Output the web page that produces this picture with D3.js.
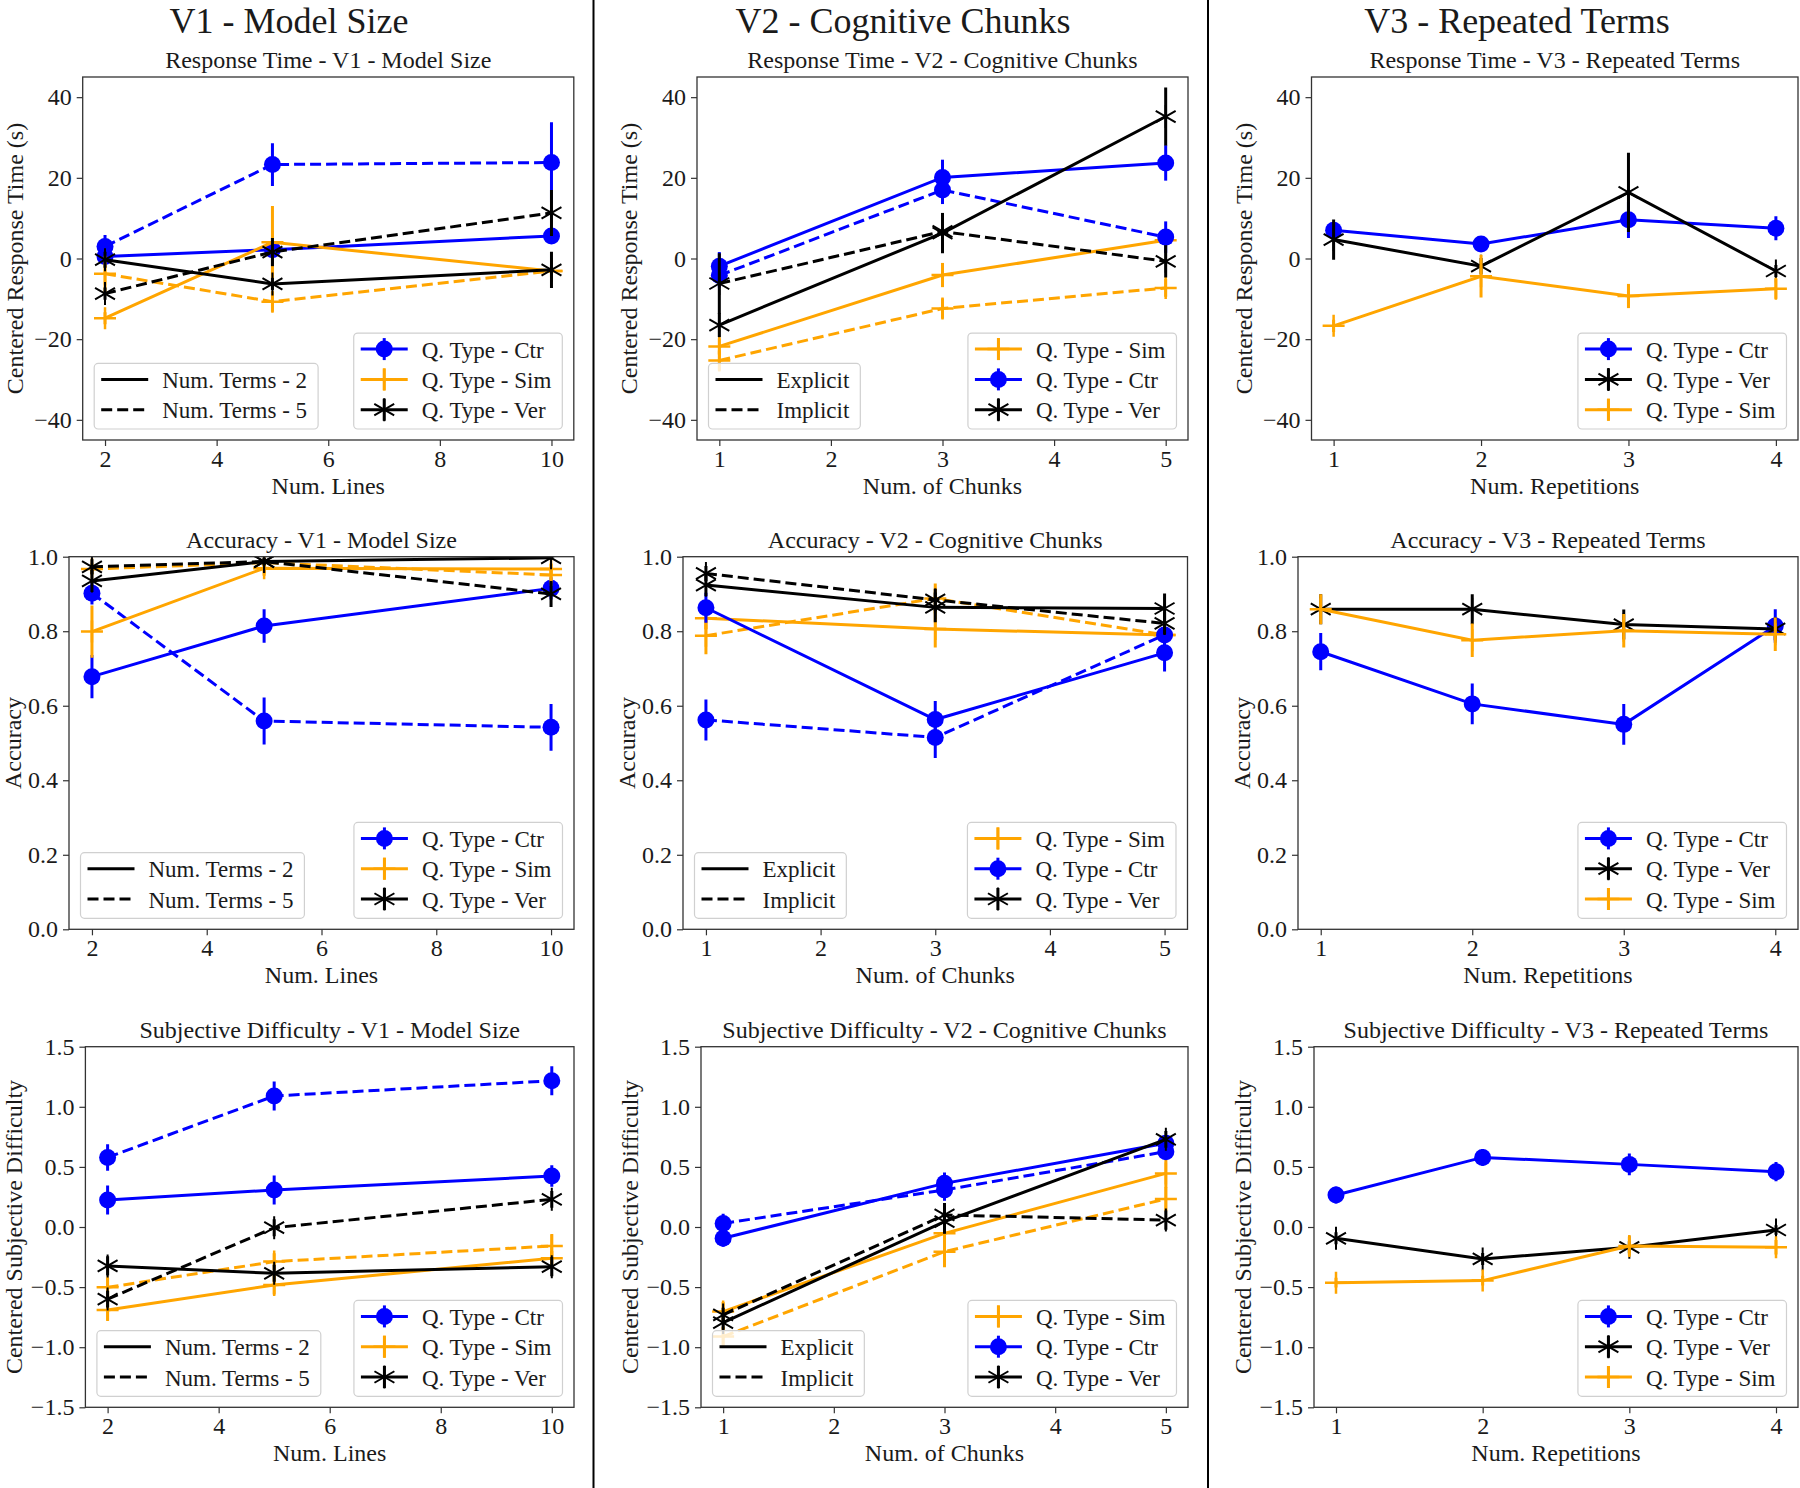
<!DOCTYPE html>
<html><head><meta charset="utf-8">
<script src="https://cdn.jsdelivr.net/npm/d3@7"></script>
<style>
body{margin:0;background:#fff}
svg{display:block}
text{font-family:"Liberation Serif","Times New Roman",serif;fill:#1a1a1a}
</style>
</head><body>
<svg id="c" width="1800" height="1488"></svg>
<script>
// ---------- categories / ticks ----------
const linesV1 = [2, 5, 10];
const chunksV2 = [1, 3, 5];
const repsV3 = [1, 2, 3, 4];
const ticksV1 = [2, 4, 6, 8, 10];
const ticksV2 = [1, 2, 3, 4, 5];
const ticksV3 = [1, 2, 3, 4];
const ticksRT = [-40, -20, 0, 20, 40];
const ticksAcc = [0, 0.2, 0.4, 0.6, 0.8, 1.0];
const ticksSD = [-1.5, -1.0, -0.5, 0, 0.5, 1.0, 1.5];

const headers = ["V1 - Model Size", "V2 - Cognitive Chunks", "V3 - Repeated Terms"];
const metricTitles = ["Response Time", "Accuracy", "Subjective Difficulty"];
const yLabels = ["Centered Response Time (s)", "Accuracy", "Centered Subjective Difficulty"];
const xLabels = ["Num. Lines", "Num. of Chunks", "Num. Repetitions"];
const styleLabelsV1 = ["Num. Terms - 2", "Num. Terms - 5"];
const styleLabelsV2 = ["Explicit", "Implicit"];
const typeLabels = {ctr: "Q. Type - Ctr", sim: "Q. Type - Sim", ver: "Q. Type - Ver"};
const typeOrderV1 = ["ctr", "sim", "ver"];
const typeOrderV2 = ["sim", "ctr", "ver"];
const typeOrderV3 = ["ctr", "ver", "sim"];

// ---------- Response time ----------
const rtV1Ctr2 = [0.5, 2.2, 5.6],    rtV1Ctr2Err = [1.5, 2.0, 2.0];
const rtV1Ctr5 = [3.0, 23.3, 23.8],  rtV1Ctr5Err = [2.8, 5.3, 10.0];
const rtV1Sim2 = [-14.8, 4.0, -3.1], rtV1Sim2Err = [1.5, 9.0, 1.5];
const rtV1Sim5 = [-3.8, -10.7, -3.1],rtV1Sim5Err = [4.5, 2.5, 1.5];
const rtV1Ver2 = [-0.3, -6.3, -2.8], rtV1Ver2Err = [2.0, 1.5, 4.5];
const rtV1Ver5 = [-8.7, 1.6, 11.3],  rtV1Ver5Err = [1.5, 3.5, 5.7];

const rtV2CtrE = [-1.9, 20.1, 23.7], rtV2CtrEErr = [3.5, 4.4, 4.4];
const rtV2CtrI = [-4.2, 17.0, 5.3],  rtV2CtrIErr = [3.0, 3.5, 3.9];
const rtV2SimE = [-21.8, -4.1, 4.5], rtV2SimEErr = [2.0, 3.0, 1.5];
const rtV2SimI = [-25.3, -12.4, -7.3], rtV2SimIErr = [2.5, 2.5, 2.2];
const rtV2VerE = [-16.5, 6.3, 35.2], rtV2VerEErr = [3.0, 5.0, 7.2];
const rtV2VerI = [-6.2, 6.7, -0.7],  rtV2VerIErr = [7.5, 3.0, 4.0];

const rtV3Ctr = [7.0, 3.6, 9.6, 7.5],     rtV3CtrErr = [2.0, 2.0, 4.5, 3.0];
const rtV3Ver = [4.7, -1.9, 16.4, -3.1],  rtV3VerErr = [5.0, 2.0, 9.8, 1.5];
const rtV3Sim = [-16.7, -4.4, -9.3, -7.5],rtV3SimErr = [1.5, 5.3, 3.0, 2.5];

// ---------- Accuracy ----------
const accV1Ctr2 = [0.678, 0.814, 0.915], accV1Ctr2Err = [0.058, 0.045, 0.03];
const accV1Ctr5 = [0.902, 0.559, 0.542], accV1Ctr5Err = [0.03, 0.063, 0.063];
const accV1Sim2 = [0.799, 0.969, 0.967], accV1Sim2Err = [0.07, 0.02, 0.015];
const accV1Sim5 = [0.967, 0.984, 0.951], accV1Sim5Err = [0.015, 0.01, 0.02];
const accV1Ver2 = [0.935, 0.987, 0.997], accV1Ver2Err = [0.03, 0.01, 0.005];
const accV1Ver5 = [0.973, 0.987, 0.900], accV1Ver5Err = [0.02, 0.01, 0.035];

const accV2CtrE = [0.863, 0.563, 0.742], accV2CtrEErr = [0.04, 0.05, 0.05];
const accV2CtrI = [0.562, 0.515, 0.790], accV2CtrIErr = [0.055, 0.055, 0.03];
const accV2SimE = [0.835, 0.806, 0.790], accV2SimEErr = [0.03, 0.05, 0.02];
const accV2SimI = [0.788, 0.888, 0.790], accV2SimIErr = [0.05, 0.04, 0.02];
const accV2VerE = [0.924, 0.864, 0.861], accV2VerEErr = [0.03, 0.04, 0.04];
const accV2VerI = [0.955, 0.884, 0.821], accV2VerIErr = [0.02, 0.03, 0.03];

const accV3Ctr = [0.745, 0.605, 0.550, 0.814], accV3CtrErr = [0.05, 0.055, 0.055, 0.045];
const accV3Ver = [0.859, 0.859, 0.818, 0.806], accV3VerErr = [0.04, 0.04, 0.04, 0.03];
const accV3Sim = [0.859, 0.776, 0.801, 0.792], accV3SimErr = [0.04, 0.045, 0.045, 0.045];

// ---------- Subjective difficulty ----------
const sdV1Ctr2 = [0.225, 0.308, 0.424],  sdV1Ctr2Err = [0.12, 0.12, 0.09];
const sdV1Ctr5 = [0.579, 1.090, 1.217],  sdV1Ctr5Err = [0.11, 0.12, 0.12];
const sdV1Sim2 = [-0.690, -0.482, -0.260], sdV1Sim2Err = [0.09, 0.08, 0.06];
const sdV1Sim5 = [-0.502, -0.288, -0.158], sdV1Sim5Err = [0.08, 0.07, 0.10];
const sdV1Ver2 = [-0.324, -0.385, -0.330], sdV1Ver2Err = [0.08, 0.07, 0.08];
const sdV1Ver5 = [-0.600, -0.006, 0.230],  sdV1Ver5Err = [0.07, 0.07, 0.07];

const sdV2CtrE = [-0.094, 0.363, 0.696], sdV2CtrEErr = [0.07, 0.09, 0.06];
const sdV2CtrI = [0.030, 0.308, 0.627],  sdV2CtrIErr = [0.08, 0.09, 0.06];
const sdV2SimE = [-0.704, -0.053, 0.446], sdV2SimEErr = [0.08, 0.10, 0.12];
const sdV2SimI = [-0.912, -0.205, 0.233], sdV2SimIErr = [0.08, 0.13, 0.10];
const sdV2VerE = [-0.795, 0.044, 0.729], sdV2VerEErr = [0.06, 0.10, 0.07];
const sdV2VerI = [-0.732, 0.100, 0.058], sdV2VerIErr = [0.06, 0.10, 0.08];

const sdV3Ctr = [0.266, 0.579, 0.521, 0.460],   sdV3CtrErr = [0.07, 0.07, 0.09, 0.08];
const sdV3Ver = [-0.094, -0.266, -0.169, -0.025], sdV3VerErr = [0.05, 0.05, 0.05, 0.04];
const sdV3Sim = [-0.463, -0.446, -0.158, -0.169], sdV3SimErr = [0.04, 0.04, 0.08, 0.06];

// ---------- drawing ----------
const svg = d3.select("#c");
const colors = {ctr: "#0000ff", sim: "#ffa500", ver: "#000000"};
const LW = 3;
let clipId = 0;

function drawMarker(g, type, cx, cy) {
  if (type === "ctr") {
    g.append("circle").attr("cx", cx).attr("cy", cy).attr("r", 8.5).attr("fill", colors.ctr);
  } else if (type === "sim") {
    const s = 11;
    g.append("path").attr("d", `M${cx - s},${cy}H${cx + s}M${cx},${cy - s}V${cy + s}`)
      .attr("stroke", colors.sim).attr("stroke-width", 2.5).attr("fill", "none");
  } else {
    const s = 11.5;
    let d = "";
    [90, 30, 150].forEach(a => {
      const r = a * Math.PI / 180, dx = s * Math.cos(r), dy = s * Math.sin(r);
      d += `M${cx - dx},${cy - dy}L${cx + dx},${cy + dy}`;
    });
    g.append("path").attr("d", d).attr("stroke", colors.ver).attr("stroke-width", 2).attr("fill", "none");
  }
}

function panel(cfg) {
  const g = svg.append("g");
  const x = d3.scaleLinear().domain(cfg.xDomain).range([cfg.left, cfg.right]);
  const y = d3.scaleLinear().domain(cfg.yDomain).range([cfg.bottom, cfg.top]);

  const id = "clip" + (clipId++);
  svg.append("clipPath").attr("id", id).append("rect")
    .attr("x", cfg.left).attr("y", cfg.top)
    .attr("width", cfg.right - cfg.left).attr("height", cfg.bottom - cfg.top);

  // axes
  const xa = g.append("g").attr("transform", `translate(0,${cfg.bottom})`)
    .call(d3.axisBottom(x).tickValues(cfg.xTicks).tickSize(6).tickPadding(4).tickFormat(d3.format("d")));
  const ya = g.append("g").attr("transform", `translate(${cfg.left},0)`)
    .call(d3.axisLeft(y).tickValues(cfg.yTicks).tickSize(6).tickPadding(5).tickFormat(d3.format(cfg.yFmt)));
  [xa, ya].forEach(a => {
    a.select(".domain").remove();
    a.selectAll(".tick line").attr("stroke", "#333").attr("stroke-width", 1.2);
    a.selectAll(".tick text").attr("font-size", 24).attr("fill", "#1a1a1a")
      .attr("font-family", "Liberation Serif, serif");
  });

  // data
  const plot = g.append("g").attr("clip-path", `url(#${id})`);
  cfg.series.forEach(s => {
    const col = colors[s.type];
    const pts = cfg.xs.map((xv, i) => [xv, s.vals[i], s.errs[i]]);
    plot.append("path").datum(pts)
      .attr("d", d3.line().x(d => x(d[0])).y(d => y(d[1])))
      .attr("fill", "none").attr("stroke", col).attr("stroke-width", LW)
      .attr("stroke-dasharray", s.dash ? "11,5" : null);
    pts.forEach(p => {
      plot.append("line").attr("x1", x(p[0])).attr("x2", x(p[0]))
        .attr("y1", y(p[1] - p[2])).attr("y2", y(p[1] + p[2]))
        .attr("stroke", col).attr("stroke-width", LW);
      drawMarker(plot, s.type, x(p[0]), y(p[1]));
    });
  });

  // frame
  g.append("rect").attr("x", cfg.left).attr("y", cfg.top)
    .attr("width", cfg.right - cfg.left).attr("height", cfg.bottom - cfg.top)
    .attr("fill", "none").attr("stroke", "#333").attr("stroke-width", 1.3);

  // texts
  g.append("text").attr("x", (cfg.left + cfg.right) / 2).attr("y", cfg.top - 9)
    .attr("text-anchor", "middle").attr("font-size", 24).text(cfg.title);
  g.append("text").attr("x", (cfg.left + cfg.right) / 2).attr("y", cfg.bottom + 54)
    .attr("text-anchor", "middle").attr("font-size", 24).text(cfg.xlabel);
  const yl = cfg.left - cfg.ylOff, ym = (cfg.top + cfg.bottom) / 2;
  g.append("text").attr("transform", `translate(${yl},${ym}) rotate(-90)`)
    .attr("text-anchor", "middle").attr("dominant-baseline", "central")
    .attr("font-size", 24).text(cfg.ylabel);

  // legends
  if (cfg.styleLabels) legendBox(g, cfg.styleLabels.map((l, i) => ({label: l, dash: i === 1})), cfg.left + 11.5, cfg.bottom - 11, "left");
  legendBox(g, cfg.typeOrder.map(t => ({label: typeLabels[t], type: t})), cfg.right - 11.5, cfg.bottom - 11, "right");
}

function legendBox(g, items, ax, bottom, side) {
  const lg = g.append("g");
  const rowH = 30.3, h = items.length * rowH + 5;
  const top = bottom - h;
  const bg = lg.append("rect");
  const texts = items.map((it, i) => lg.append("text").attr("font-size", 23)
    .attr("y", top + 17 + i * rowH).attr("dominant-baseline", "central").text(it.label));
  const tw = d3.max(texts, t => t.node().getComputedTextLength());
  const w = 68 + tw + 11;
  const left = side === "left" ? ax : ax - w;
  bg.attr("x", left).attr("y", top).attr("width", w).attr("height", h).attr("rx", 4)
    .attr("fill", "#fff").attr("fill-opacity", 0.8).attr("stroke", "#d0d0d0").attr("stroke-width", 1.2);
  texts.forEach(t => t.attr("x", left + 68));
  items.forEach((it, i) => {
    const cy = top + 16 + i * rowH;
    const col = it.type ? colors[it.type] : "#000";
    lg.append("line").attr("x1", left + 7).attr("x2", left + 54).attr("y1", cy).attr("y2", cy)
      .attr("stroke", col).attr("stroke-width", LW).attr("stroke-dasharray", it.dash ? "11,5" : null);
    if (it.type) {
      const cx = left + 30.5;
      lg.append("line").attr("x1", cx).attr("x2", cx).attr("y1", cy - 11).attr("y2", cy + 11)
        .attr("stroke", col).attr("stroke-width", LW);
      drawMarker(lg, it.type, cx, cy);
    }
  });
}

// layout
const rowsTB = [[77, 440], [556.7, 929.3], [1046.7, 1407.3]];
const lefts = [[82.7, 697, 1311.5], [69, 683, 1298], [85.4, 701, 1314]];
const rights = [[573.8, 1188, 1798], [574, 1187.5, 1798], [574, 1188, 1798]];
const ylOffs = [68, 56, 71];
const yDomains = [[-45, 45], [0, 1], [-1.5, 1.5]];
const yTickSets = [ticksRT, ticksAcc, ticksSD];
const yFmts = ["d", ".1f", ".1f"];
const xDomains = [[1.6, 10.4], [0.8, 5.2], [0.85, 4.15]];
const xTickSets = [ticksV1, ticksV2, ticksV3];
const xsSets = [linesV1, chunksV2, repsV3];

const seriesGrid = [
  [
    [{type:"ctr",dash:false,vals:rtV1Ctr2,errs:rtV1Ctr2Err},{type:"ctr",dash:true,vals:rtV1Ctr5,errs:rtV1Ctr5Err},
     {type:"sim",dash:false,vals:rtV1Sim2,errs:rtV1Sim2Err},{type:"sim",dash:true,vals:rtV1Sim5,errs:rtV1Sim5Err},
     {type:"ver",dash:false,vals:rtV1Ver2,errs:rtV1Ver2Err},{type:"ver",dash:true,vals:rtV1Ver5,errs:rtV1Ver5Err}],
    [{type:"sim",dash:false,vals:rtV2SimE,errs:rtV2SimEErr},{type:"sim",dash:true,vals:rtV2SimI,errs:rtV2SimIErr},
     {type:"ctr",dash:false,vals:rtV2CtrE,errs:rtV2CtrEErr},{type:"ctr",dash:true,vals:rtV2CtrI,errs:rtV2CtrIErr},
     {type:"ver",dash:false,vals:rtV2VerE,errs:rtV2VerEErr},{type:"ver",dash:true,vals:rtV2VerI,errs:rtV2VerIErr}],
    [{type:"ctr",dash:false,vals:rtV3Ctr,errs:rtV3CtrErr},{type:"ver",dash:false,vals:rtV3Ver,errs:rtV3VerErr},
     {type:"sim",dash:false,vals:rtV3Sim,errs:rtV3SimErr}]
  ],
  [
    [{type:"ctr",dash:false,vals:accV1Ctr2,errs:accV1Ctr2Err},{type:"ctr",dash:true,vals:accV1Ctr5,errs:accV1Ctr5Err},
     {type:"sim",dash:false,vals:accV1Sim2,errs:accV1Sim2Err},{type:"sim",dash:true,vals:accV1Sim5,errs:accV1Sim5Err},
     {type:"ver",dash:false,vals:accV1Ver2,errs:accV1Ver2Err},{type:"ver",dash:true,vals:accV1Ver5,errs:accV1Ver5Err}],
    [{type:"sim",dash:false,vals:accV2SimE,errs:accV2SimEErr},{type:"sim",dash:true,vals:accV2SimI,errs:accV2SimIErr},
     {type:"ctr",dash:false,vals:accV2CtrE,errs:accV2CtrEErr},{type:"ctr",dash:true,vals:accV2CtrI,errs:accV2CtrIErr},
     {type:"ver",dash:false,vals:accV2VerE,errs:accV2VerEErr},{type:"ver",dash:true,vals:accV2VerI,errs:accV2VerIErr}],
    [{type:"ctr",dash:false,vals:accV3Ctr,errs:accV3CtrErr},{type:"ver",dash:false,vals:accV3Ver,errs:accV3VerErr},
     {type:"sim",dash:false,vals:accV3Sim,errs:accV3SimErr}]
  ],
  [
    [{type:"ctr",dash:false,vals:sdV1Ctr2,errs:sdV1Ctr2Err},{type:"ctr",dash:true,vals:sdV1Ctr5,errs:sdV1Ctr5Err},
     {type:"sim",dash:false,vals:sdV1Sim2,errs:sdV1Sim2Err},{type:"sim",dash:true,vals:sdV1Sim5,errs:sdV1Sim5Err},
     {type:"ver",dash:false,vals:sdV1Ver2,errs:sdV1Ver2Err},{type:"ver",dash:true,vals:sdV1Ver5,errs:sdV1Ver5Err}],
    [{type:"sim",dash:false,vals:sdV2SimE,errs:sdV2SimEErr},{type:"sim",dash:true,vals:sdV2SimI,errs:sdV2SimIErr},
     {type:"ctr",dash:false,vals:sdV2CtrE,errs:sdV2CtrEErr},{type:"ctr",dash:true,vals:sdV2CtrI,errs:sdV2CtrIErr},
     {type:"ver",dash:false,vals:sdV2VerE,errs:sdV2VerEErr},{type:"ver",dash:true,vals:sdV2VerI,errs:sdV2VerIErr}],
    [{type:"ctr",dash:false,vals:sdV3Ctr,errs:sdV3CtrErr},{type:"ver",dash:false,vals:sdV3Ver,errs:sdV3VerErr},
     {type:"sim",dash:false,vals:sdV3Sim,errs:sdV3SimErr}]
  ]
];
const typeOrders = [typeOrderV1, typeOrderV2, typeOrderV3];
const styleLabelSets = [styleLabelsV1, styleLabelsV2, null];

for (let r = 0; r < 3; r++) {
  for (let c = 0; c < 3; c++) {
    panel({
      left: lefts[r][c], right: rights[r][c], top: rowsTB[r][0], bottom: rowsTB[r][1],
      xDomain: xDomains[c], yDomain: yDomains[r], xTicks: xTickSets[c], yTicks: yTickSets[r],
      yFmt: yFmts[r], xs: xsSets[c], series: seriesGrid[r][c],
      title: `${metricTitles[r]} - ${headers[c]}`, xlabel: xLabels[c], ylabel: yLabels[r],
      ylOff: ylOffs[r], typeOrder: typeOrders[c], styleLabels: styleLabelSets[c]
    });
  }
}

// column headers and dividers
const headerX = [289, 903, 1517];
headers.forEach((h, i) => svg.append("text").attr("x", headerX[i]).attr("y", 33)
  .attr("text-anchor", "middle").attr("font-size", 36).attr("fill", "#000").text(h));
[593.5, 1208].forEach(xv => svg.append("line").attr("x1", xv).attr("x2", xv).attr("y1", 0).attr("y2", 1488)
  .attr("stroke", "#000").attr("stroke-width", 2));
</script>
</body></html>
